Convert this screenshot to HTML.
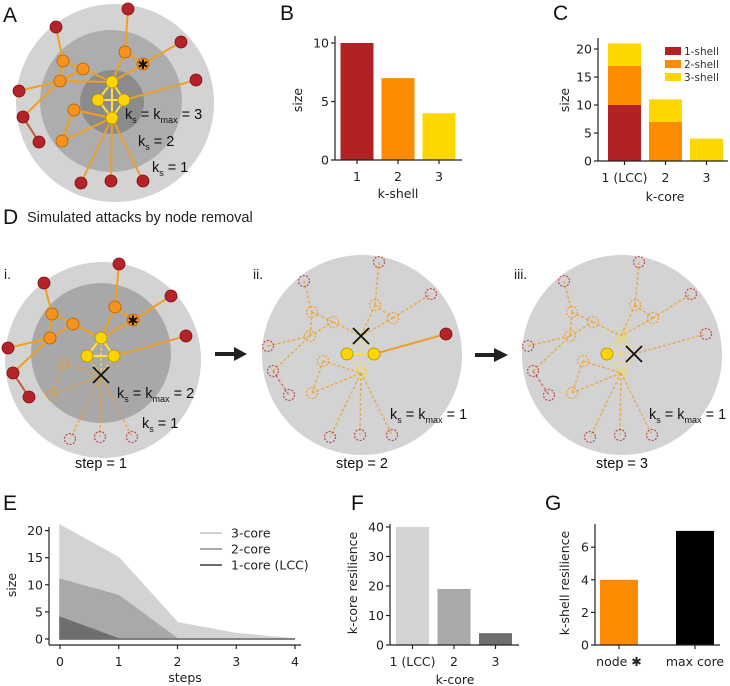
<!DOCTYPE html>
<html><head><meta charset="utf-8">
<style>
html,body{margin:0;padding:0;background:#fff;}
svg{display:block;font-family:"DejaVu Sans","Liberation Sans",sans-serif;}
.lbl{font-family:"Liberation Sans",sans-serif;font-size:21px;fill:#111;}
.tk{font-size:12.5px;fill:#222;}
.ax{stroke:#222;stroke-width:1.2;fill:none;}
.ks{font-family:"Liberation Sans",sans-serif;font-size:14.5px;fill:#111;}
.sub{font-size:9px;}
</style></head>
<body>
<svg id="fig" width="730" height="686" viewBox="0 0 730 686" xmlns="http://www.w3.org/2000/svg">
<text class="lbl" x="3" y="22">A</text>
<text class="lbl" x="280" y="20">B</text>
<text class="lbl" x="553" y="20">C</text>
<text class="lbl" x="3" y="224">D</text>
<text x="27" y="222" style="font-family:'Liberation Sans',sans-serif;font-size:14.5px;fill:#222">Simulated attacks by node removal</text>
<text class="lbl" x="3" y="510">E</text>
<text class="lbl" x="351" y="510">F</text>
<text class="lbl" x="545" y="510">G</text>

<g>
<circle cx="115" cy="103" r="99" fill="#d3d3d3"/>
<circle cx="111" cy="101" r="71" fill="#adadad"/>
<circle cx="112" cy="102" r="32" fill="#8b8b8b"/>
<g id="netA"></g>
<text class="ks" x="125" y="119">k<tspan class="sub" dy="4">s</tspan><tspan dy="-4"> = k</tspan><tspan class="sub" dy="4">max</tspan><tspan dy="-4"> = 3</tspan></text>
<text class="ks" x="138" y="146">k<tspan class="sub" dy="4">s</tspan><tspan dy="-4"> = 2</tspan></text>
<text class="ks" x="152" y="172">k<tspan class="sub" dy="4">s</tspan><tspan dy="-4"> = 1</tspan></text>
</g>

<g>
<text x="4" y="279" style="font-family:'Liberation Sans',sans-serif;font-size:14px;fill:#222">i.</text>
<circle cx="103" cy="360" r="98" fill="#d3d3d3"/>
<circle cx="101" cy="353" r="70" fill="#a8a8a8"/>
<g id="netD0"></g>
<text class="ks" x="117" y="398">k<tspan class="sub" dy="4">s</tspan><tspan dy="-4"> = k</tspan><tspan class="sub" dy="4">max</tspan><tspan dy="-4"> = 2</tspan></text>
<text class="ks" x="142" y="428">k<tspan class="sub" dy="4">s</tspan><tspan dy="-4"> = 1</tspan></text>
<text class="ks" x="75" y="468">step = 1</text>
</g>
<g>
<text x="253" y="279" style="font-family:'Liberation Sans',sans-serif;font-size:14px;fill:#222">ii.</text>
<circle cx="362" cy="355" r="100" fill="#d3d3d3"/>
<g id="netD1"></g>
<text class="ks" x="390" y="419">k<tspan class="sub" dy="4">s</tspan><tspan dy="-4"> = k</tspan><tspan class="sub" dy="4">max</tspan><tspan dy="-4"> = 1</tspan></text>
<text class="ks" x="336" y="468">step = 2</text>
</g>
<g>
<text x="514" y="279" style="font-family:'Liberation Sans',sans-serif;font-size:14px;fill:#222">iii.</text>
<circle cx="622" cy="355" r="100" fill="#d3d3d3"/>
<g id="netD2"></g>
<text class="ks" x="649" y="419">k<tspan class="sub" dy="4">s</tspan><tspan dy="-4"> = k</tspan><tspan class="sub" dy="4">max</tspan><tspan dy="-4"> = 1</tspan></text>
<text class="ks" x="596" y="468">step = 3</text>
</g>
<g>
<line x1="215" y1="354" x2="236" y2="354" stroke="#222" stroke-width="4"/>
<polygon points="234,347 247,354 234,361" fill="#222"/>
</g>
<g>
<line x1="475" y1="355" x2="496" y2="355" stroke="#222" stroke-width="4"/>
<polygon points="494,348 508,355 494,362" fill="#222"/>
</g>

<g id="chartB"></g>
<g id="chartC"></g>
<g id="chartE"></g>
<g id="chartF"></g>
<g id="chartG"></g>
</svg>
<script>
const NS="http://www.w3.org/2000/svg";
function mk(tag,parent,attrs){const e=document.createElementNS(NS,tag);for(const k in attrs)e.setAttribute(k,attrs[k]);parent.appendChild(e);return e;}
const COL={r:"#b22222",o:"#ff8c00",y:"#ffd700"};
const NODEFILL={r:"#b5232a",o:"#f7921e",y:"#ffd400"};
const NODESTROKE={r:"#7a1010",o:"#b35f00",y:"#b08e00"};
const EDGECOL={ro:"#c65a3a",rr:"#c65a3a",oo:"#f0a020",oy:"#f0a020",ry:"#e8a030",yy:"#ffe040"};
function ecol(a,b){const k=[a,b].sort().join("");return EDGECOL[k]||"#f0a020";}

const nodesA=[[112,82,"y"],[98,100,"y"],[124,100,"y"],[112,118,"y"],
[63,61,"o"],[83,69,"o"],[60,81,"o"],[125,52,"o"],[143,64,"o"],[74,110,"o"],[62,141,"o"],
[56,27,"r"],[128,9,"r"],[181,42,"r"],[196,80,"r"],[19,91,"r"],[23,117,"r"],[39,142,"r"],[81,183,"r"],[111,181,"r"],[143,181,"r"]];
const edgesA=[[11,4],[4,5],[4,6],[6,5],[5,0],[6,0],[15,6],[16,6],[16,17],[7,12],[7,8],[7,0],[8,13],[8,0],[2,14],
[0,1],[0,2],[1,3],[2,3],[0,3],[1,2],[9,3],[9,10],[10,3],[3,18],[3,19],[3,20]];
(function(){
 const g=document.getElementById("netA");
 edgesA.forEach(([a,b])=>{const A=nodesA[a],B=nodesA[b];
  const l=mk("line",g,{x1:A[0],y1:A[1],x2:B[0],y2:B[1],stroke:ecol(A[2],B[2]),"stroke-width":2});
  
  });
 nodesA.forEach((n,i)=>{const c=mk("circle",g,{cx:n[0],cy:n[1],r:6,fill:NODEFILL[n[2]],stroke:NODESTROKE[n[2]],"stroke-width":0.8});
  
  });
 const s=mk("text",g,{x:143,y:69,"text-anchor":"middle","font-size":"13",fill:"#111"});s.textContent="✱";
 
 
})();

const nodesD=[[101,338,"y"],[87,356,"y"],[114,356,"y"],[101,375,"y"],
[52,314,"o"],[73,324,"o"],[50,338,"o"],[115,307,"o"],[133,320,"o"],[63,363,"o"],[52,395,"o"],
[44,283,"r"],[119,264,"r"],[171,296,"r"],[186,336,"r"],[8,348,"r"],[13,373,"r"],[29,397,"r"],[70,439,"r"],[100,437,"r"],[132,437,"r"]];
const edgesD=[[11,4],[4,5],[4,6],[6,5],[5,0],[15,6],[16,6],[16,17],[12,7],[7,8],[7,0],[8,13],[8,0],[2,14],
[0,1],[0,2],[1,2],[0,3],[1,3],[2,3],[9,3],[9,10],[10,3],[3,18],[3,19],[3,20]];
const aliveSteps=[[0,1,2,4,5,6,7,8,11,12,13,14,15,16,17],[1,2,14],[1]];
const removedSteps=[3,0,2];
const offsets=[[0,0],[260,-2],[520,-2]];
function drawD(step){
 const g=document.getElementById("netD"+step);const alive=new Set(aliveSteps[step]);const [dx,dy]=offsets[step];
 edgesD.forEach(([a,b])=>{const A=nodesD[a],B=nodesD[b];const live=alive.has(a)&&alive.has(b);
  const at={x1:A[0]+dx,y1:A[1]+dy,x2:B[0]+dx,y2:B[1]+dy,stroke:ecol(A[2],B[2]),"stroke-width":live?2:1.5};
  if(!live){at["stroke-dasharray"]="3,2";at["opacity"]="0.75";}
  const l=mk("line",g,at);
  
  });
 nodesD.forEach((n,i)=>{if(i===removedSteps[step])return;const live=alive.has(i);
  const at=live?{cx:n[0]+dx,cy:n[1]+dy,r:6,fill:NODEFILL[n[2]],stroke:NODESTROKE[n[2]],"stroke-width":0.8}
   :{cx:n[0]+dx,cy:n[1]+dy,r:5.5,fill:"none",stroke:COL[n[2]],"stroke-width":1.2,"stroke-dasharray":"2,1.5",opacity:"0.75"};
  const c=mk("circle",g,at);
  
  });
 if(step===0){const s=mk("text",g,{x:133,y:325,"text-anchor":"middle","font-size":"13",fill:"#111"});s.textContent="✱";
  
  }
 const r=nodesD[removedSteps[step]];const x=r[0]+dx,y=r[1]+dy;
 const xm=mk("path",g,{d:`M${x-8},${y-8}L${x+8},${y+8}M${x+8},${y-8}L${x-8},${y+8}`,stroke:"#111","stroke-width":1.8});
 
 
}
[0,1,2].forEach(drawD);

function yAxis(g,x,y0,y1,ticks,yf,name){
 const a=mk("line",g,{x1:x,y1:y0,x2:x,y2:y1,class:"ax"});
 
 
 ticks.forEach(t=>{const y=yf(t);mk("line",g,{x1:x-4,y1:y,x2:x,y2:y,class:"ax"});
  const tx=mk("text",g,{x:x-6,y:y+4.5,"text-anchor":"end",class:"tk"});tx.textContent=t;
  
  });
}
function xAxis(g,y,x0,x1,pos,labels,name){
 const a=mk("line",g,{x1:x0,y1:y,x2:x1,y2:y,class:"ax"});
 
 
 pos.forEach((p,i)=>{mk("line",g,{x1:p,y1:y,x2:p,y2:y+4,class:"ax"});
  const tx=mk("text",g,{x:p,y:y+21,"text-anchor":"middle",class:"tk"});tx.textContent=labels[i];
  
  });
}
function title(g,x,y,txt,rot,name){
 const t=mk("text",g,{x:x,y:y,"text-anchor":"middle",class:"tk",transform:rot?`rotate(-90 ${x} ${y})`:""});t.textContent=txt;
 
 
}

const bCats=["1","2","3"];
const bVals=[10,7,4];
const bColors=["#b22222","#ff8c00","#ffd700"];
const bTicks=[0,5,10];
(function(){
 const g=document.getElementById("chartB");const y=v=>160-v*11.7;const cx=i=>357+i*41;
 bVals.forEach((v,i)=>{const r=mk("rect",g,{x:cx(i)-16.5,y:y(v),width:33,height:160-y(v),fill:bColors[i]});
  
  });
 yAxis(g,335,160,36,bTicks,y,"b");
 xAxis(g,160,335,462,bCats.map((c,i)=>cx(i)),bCats,"b");
 title(g,302,100,"size",true,"b-y-axis-title");
 title(g,398,198,"k-shell",false,"b-x-axis-title");
})();

const cCats=["1 (LCC)","2","3"];
const cShell1=[10,0,0];
const cShell2=[7,7,0];
const cShell3=[4,4,4];
const cTicks=[0,5,10,15,20];
const cLegend=["1-shell","2-shell","3-shell"];
(function(){
 const g=document.getElementById("chartC");const y=v=>161-v*5.6;const cx=i=>624.5+i*41;
 const series=[cShell1,cShell2,cShell3];
 cCats.forEach((c,i)=>{let base=0;series.forEach((s,k)=>{const v=s[i];if(v>0){
  const r=mk("rect",g,{x:cx(i)-16.5,y:y(base+v),width:33,height:y(base)-y(base+v),fill:bColors[k]});
  
  }base+=v;});});
 yAxis(g,598,161,38,cTicks,y,"c");
 xAxis(g,161,598,728,cCats.map((c,i)=>cx(i)),cCats,"c");
 title(g,569,100,"size",true,"c-y-axis-title");
 title(g,665,201,"k-core",false,"c-x-axis-title");
 cLegend.forEach((l,k)=>{const yy=47+k*13;
  const r=mk("rect",g,{x:665,y:yy,width:16,height:8,fill:bColors[k]});
  
  
  const t=mk("text",g,{x:684,y:yy+8,"font-size":"10.5",fill:"#333"});t.textContent=l;
  
  });
})();

const eSteps=[0,1,2,3,4];
const eCore3=[21,15,3,1,0];
const eCore2=[11,8,0,0,0];
const eCore1=[4,0,0,0,0];
const eTicks=[0,5,10,15,20];
const eLegend=["3-core","2-core","1-core (LCC)"];
(function(){
 const g=document.getElementById("chartE");const y=v=>639-v*5.42;const x=s=>60+s*58.75;
 const series=[eCore3,eCore2,eCore1];const cols=["#d3d3d3","#a9a9a9","#6e6e6e"];
 series.forEach((s,k)=>{let pts=eSteps.map((st,i)=>x(st)+","+y(s[i])).join(" ");
  pts+=" "+x(eSteps[eSteps.length-1])+","+y(0)+" "+x(eSteps[0])+","+y(0);
  const p=mk("polygon",g,{points:pts,fill:cols[k],stroke:cols[k],"stroke-width":1.5});
  
  });
 yAxis(g,49,645,527,eTicks,y,"e");
 xAxis(g,645,49,301,eSteps.map(x),eSteps,"e");
 title(g,16,585,"size",true,"e-y-axis-title");
 title(g,185,682,"steps",false,"e-x-axis-title");
 eLegend.forEach((l,k)=>{const yy=533+k*16;
  const ln=mk("line",g,{x1:200,y1:yy,x2:222,y2:yy,stroke:cols[k],"stroke-width":2});
  
  
  const t=mk("text",g,{x:231,y:yy+4.5,class:"tk"});t.textContent=l;
  
  });
})();

const fCats=["1 (LCC)","2","3"];
const fVals=[40,19,4];
const fTicks=[0,10,20,30,40];
(function(){
 const g=document.getElementById("chartF");const y=v=>645-v*2.95;const cx=i=>412.5+i*41.5;const cols=["#d3d3d3","#a9a9a9","#6e6e6e"];
 fVals.forEach((v,i)=>{const r=mk("rect",g,{x:cx(i)-16.5,y:y(v),width:33,height:645-y(v),fill:cols[i]});
  
  });
 yAxis(g,390,645,524,fTicks,y,"f");
 xAxis(g,645,390,519,fCats.map((c,i)=>cx(i)),fCats,"f");
 title(g,357,583,"k-core resilience",true,"f-y-axis-title");
 title(g,455,684,"k-core",false,"f-x-axis-title");
})();

const gCats=["node ✱","max core"];
const gVals=[4,7];
const gTicks=[0,2,4,6];
(function(){
 const g=document.getElementById("chartG");const y=v=>645-v*16.3;const cx=i=>619+i*76;const cols=["#ff8c00","#000000"];
 gVals.forEach((v,i)=>{const r=mk("rect",g,{x:cx(i)-19,y:y(v),width:38,height:645-y(v),fill:cols[i]});
  
  });
 yAxis(g,595,645,524,gTicks,y,"g");
 xAxis(g,645,595,720,gCats.map((c,i)=>cx(i)),gCats,"g");
 title(g,569,583,"k-shell resilience",true,"g-y-axis-title");
})();
</script>
</body></html>
